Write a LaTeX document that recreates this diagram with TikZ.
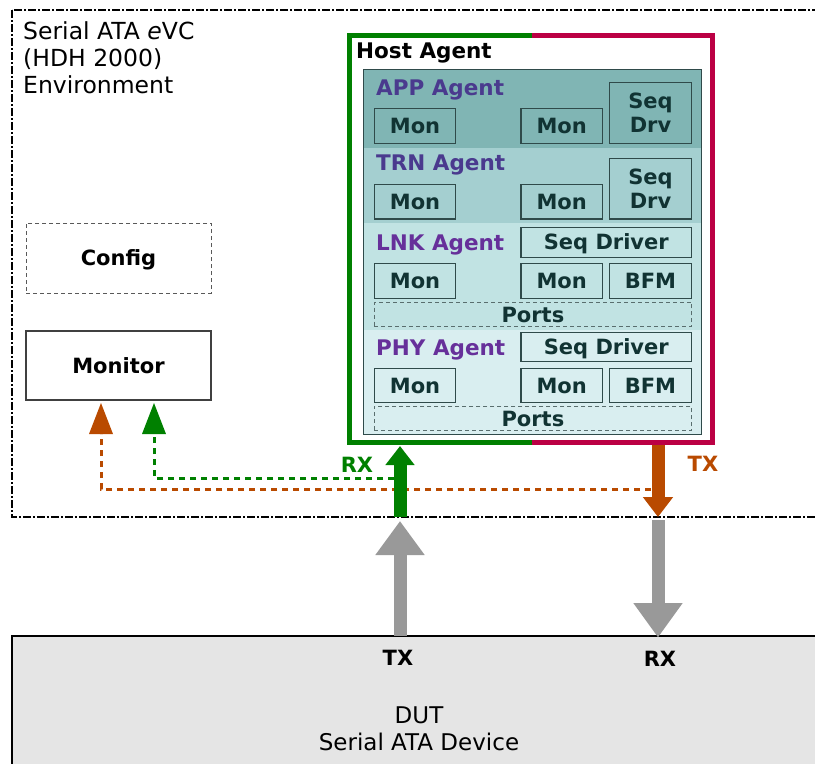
\documentclass[tikz,border=0pt]{standalone}
\usepackage{fontspec}
\setmainfont{DejaVu Sans}
\usetikzlibrary{arrows.meta}
\definecolor{hgreen}{HTML}{008000}
\definecolor{hred}{HTML}{BB0044}
\definecolor{torange}{HTML}{B94A00}
\definecolor{agray}{HTML}{999999}
\definecolor{appfill}{HTML}{80B5B4}
\definecolor{trnfill}{HTML}{A4CFD0}
\definecolor{lnkfill}{HTML}{C1E3E3}
\definecolor{phyfill}{HTML}{D9EEF0}
\definecolor{boxline}{HTML}{2F4A4A}
\definecolor{boxtext}{HTML}{113333}
\definecolor{lblA}{HTML}{4A3A8E}
\definecolor{lblB}{HTML}{66309A}
\definecolor{dutfill}{HTML}{E5E5E5}
\begin{document}
\begin{tikzpicture}[x=1pt,y=-1pt,
  bx/.style={draw=boxline, line width=1.2pt, font=\bfseries\fontsize{21}{24}\selectfont,
    text=boxtext, inner sep=0pt, text height=15.3pt, text depth=0pt},
  bx2/.style={draw=boxline, line width=1.2pt, font=\bfseries\fontsize{21}{24}\selectfont,
    text=boxtext, inner sep=0pt, align=center},
  ports/.style={draw=boxline!80, line width=1pt, dash pattern=on 4pt off 3pt,
    font=\bfseries\fontsize{21}{24}\selectfont, text=boxtext, inner sep=0pt,
    text height=15.3pt, text depth=0pt},
  agentlbl/.style={font=\bfseries\fontsize{21.5}{25}\selectfont, anchor=base west, inner sep=0pt},
  sidebox/.style={line width=1.2pt, font=\bfseries\fontsize{21}{24}\selectfont,
    inner sep=0pt, text height=15.3pt, text depth=0pt, minimum width=185pt},
  bigarrow/.style={line width=13pt},
  smallarrow/.style={line width=3pt, dash pattern=on 6pt off 5pt}
]
\useasboundingbox (0,0) rectangle (815,764);
\clip (0,0) rectangle (815,764);

% environment box
\draw[line width=2.2pt, dash pattern=on 8pt off 2pt on 2pt off 2pt] (12,10) rectangle (840,517);
\node[anchor=north west, align=left, inner sep=0pt, font=\fontsize{23.5}{27}\selectfont]
  (envlbl) at (23,21) {Serial ATA \textit{e}VC\\(HDH 2000)\\Environment};

% DUT
\draw[fill=dutfill, line width=1.5pt] (12,636) rectangle (840,790);
\node[font=\bfseries\fontsize{21}{24}\selectfont, anchor=base, inner sep=0pt] (duttx) at (398,665) {TX};
\node[font=\bfseries\fontsize{21}{24}\selectfont, anchor=base, inner sep=0pt] (dutrx) at (660,666.5) {RX};
\node[anchor=north, align=center, inner sep=0pt, font=\fontsize{23}{27}\selectfont]
  (dut) at (419,707) {DUT\\Serial ATA Device};

% Config and Monitor
\node[sidebox, draw=black!65, line width=1pt, dash pattern=on 4pt off 3pt, minimum height=70pt] (config) at (118.5,258) {Config};
\node[sidebox, draw=black!75, minimum height=69pt] (monitor) at (118.5,365.5) {Monitor};

% Host agent
\fill[white] (349.5,35.5) rectangle (712.5,442.5);
\draw[hgreen, line width=5pt, line join=miter] (532,35.5) -- (349.5,35.5) -- (349.5,442.5) -- (532,442.5);
\draw[hred, line width=5pt, line join=miter] (532,35.5) -- (712.5,35.5) -- (712.5,442.5) -- (532,442.5);
\node[agentlbl] (host) at (356,58) {Host Agent};

% sections
\fill[appfill] (363.3,69.3) rectangle (701.7,148.3);
\fill[trnfill] (363.3,148.3) rectangle (701.7,222.7);
\fill[lnkfill] (363.3,222.7) rectangle (701.7,330);
\fill[phyfill] (363.3,330) rectangle (701.7,434.3);
\draw[boxline, line width=1.3pt] (363.3,69.3) rectangle (701.7,434.3);

% APP
\node[agentlbl, text=lblA] (app) at (376,95) {APP Agent};
\node[bx, minimum width=81.4pt, minimum height=34.6pt] (appmon1) at (415,126) {Mon};
\node[bx, minimum width=81.3pt, minimum height=34.6pt] (appmon2) at (561.7,126) {Mon};
\node[bx2, minimum width=82.4pt, minimum height=61pt] (appseq) at (650.5,112.8) {Seq\\Drv};

% TRN
\node[agentlbl, text=lblA] (trn) at (376,170) {TRN Agent};
\node[bx, minimum width=81.4pt, minimum height=34.7pt] (trnmon1) at (415,201.7) {Mon};
\node[bx, minimum width=81.3pt, minimum height=34.7pt] (trnmon2) at (561.7,201.7) {Mon};
\node[bx2, minimum width=82.4pt, minimum height=60.7pt] (trnseq) at (650.5,188.7) {Seq\\Drv};

% LNK
\node[agentlbl, text=lblB] (lnk) at (376,250.7) {LNK Agent};
\node[bx, minimum width=170.7pt, minimum height=30pt] (lnkseq) at (606.3,242.3) {Seq Driver};
\node[bx, minimum width=81.4pt, minimum height=35pt] (lnkmon1) at (415,281.2) {Mon};
\node[bx, minimum width=81.3pt, minimum height=35pt] (lnkmon2) at (561.7,281.2) {Mon};
\node[bx, minimum width=82.4pt, minimum height=35pt] (lnkbfm) at (650.5,281.2) {BFM};
\node[ports, minimum width=317.7pt, minimum height=24.4pt] (lnkports) at (532.9,314.5) {Ports};

% PHY
\node[agentlbl, text=lblB] (phy) at (376,355) {PHY Agent};
\node[bx, minimum width=170.7pt, minimum height=29.4pt] (physeq) at (606.3,347) {Seq Driver};
\node[bx, minimum width=81.4pt, minimum height=34.4pt] (phymon1) at (415,385.5) {Mon};
\node[bx, minimum width=81.3pt, minimum height=34.4pt] (phymon2) at (561.7,385.5) {Mon};
\node[bx, minimum width=82.4pt, minimum height=34.4pt] (phybfm) at (650.5,385.5) {BFM};
\node[ports, minimum width=317.7pt, minimum height=24pt] (phyports) at (532.9,418.7) {Ports};

% coordinates
\coordinate (rxbase) at (400,517);
\coordinate (rxtip) at (400,446);
\coordinate (txstart) at (658,445);
\coordinate (txtip) at (658,517);
\coordinate (gupstart) at (400,636);
\coordinate (guptip) at (400,521);
\coordinate (gdnstart) at (658,520);
\coordinate (gdntip) at (658,637.5);
\coordinate (omonstart) at (101,489);
\coordinate (omontip) at (101,403);
\coordinate (gmonstart) at (154,478);
\coordinate (gmontip) at (154,403);
\coordinate (otap) at (651,489);
\coordinate (gtap) at (394,478);

% dashed monitor taps
\draw[smallarrow, torange] (otap) -- (omonstart) -- ([yshift=-31pt]omontip);
\fill[torange] (omontip) -- ([xshift=-12pt,yshift=-31pt]omontip) -- ([xshift=12pt,yshift=-31pt]omontip) -- cycle;
\draw[smallarrow, hgreen] (gtap) -- (gmonstart) -- ([yshift=-31pt]gmontip);
\fill[hgreen] (gmontip) -- ([xshift=-12pt,yshift=-31pt]gmontip) -- ([xshift=12pt,yshift=-31pt]gmontip) -- cycle;

% big arrows
\draw[bigarrow, hgreen, -{Triangle[length=19pt,width=28pt]}] (rxbase) -- (rxtip);
\draw[bigarrow, torange, -{Triangle[length=20pt,width=29pt]}] (txstart) -- (txtip);
\draw[bigarrow, agray, -{Triangle[length=34pt,width=47pt]}] (gupstart) -- (guptip);
\draw[bigarrow, agray, -{Triangle[length=34.5pt,width=47pt]}] (gdnstart) -- (gdntip);

\node[font=\bfseries\fontsize{21}{24}\selectfont, text=hgreen, anchor=base, inner sep=0pt] (rxlbl) at (357,472) {RX};
\node[font=\bfseries\fontsize{21}{24}\selectfont, text=torange, anchor=base, inner sep=0pt] (txlbl) at (703,471) {TX};
\end{tikzpicture}
\end{document}
